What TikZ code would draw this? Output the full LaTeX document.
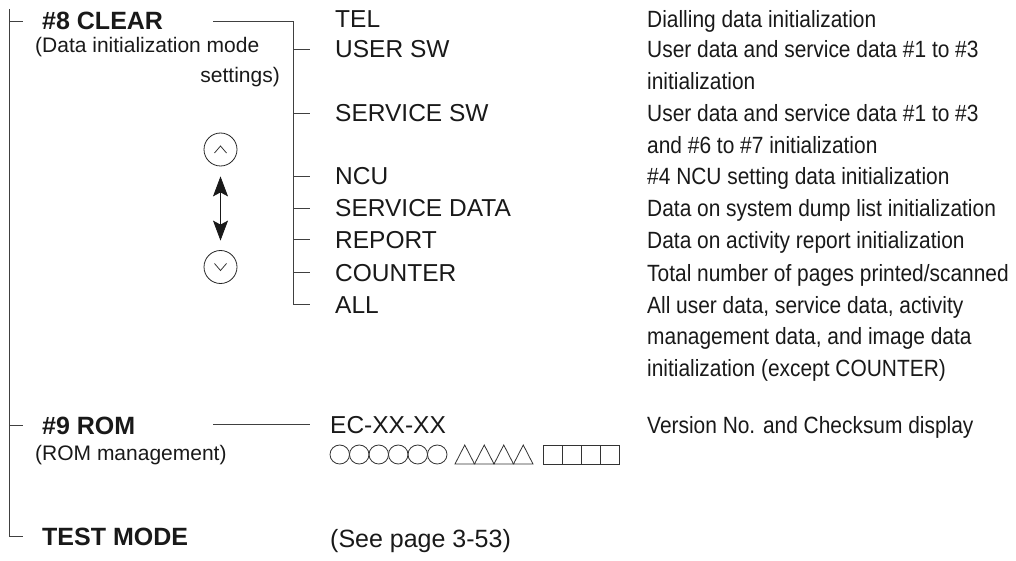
\documentclass[tikz,border=0pt]{standalone}
\usepackage{fontspec}
\setmainfont{Liberation Sans}
\newfontfamily\descfont[FakeStretch=0.89]{Liberation Sans}
\usetikzlibrary{arrows.meta}

\tikzset{
  menu/.style={anchor=base west, inner sep=0pt, text=black!90, font=\fontsize{25}{30}\selectfont\bfseries},
  note/.style={anchor=base west, inner sep=0pt, text=black!90, font=\fontsize{21}{25}\selectfont},
  item/.style={anchor=base west, inner sep=0pt, text=black!90, font=\fontsize{24.5}{29}\selectfont},
  desc/.style={anchor=base west, inner sep=0pt, text=black!90, align=left, font=\descfont\fontsize{23.5}{31.5}\selectfont},
  key/.style={circle, draw=black!85, line width=0.8pt, minimum size=33pt, inner sep=0pt},
  tree/.style={line width=0.9pt, black!75},
  glyph/.style={line width=0.8pt, black!80}
}

\begin{document}
\begin{tikzpicture}[x=1pt,y=-1pt]
\useasboundingbox (0,0) rectangle (1016,561);

% main menu
\node[menu] (clear) at (42,30) {\#8 CLEAR};
\node[note] (clearnote) at (35,53) {(Data initialization mode};
\node[note, anchor=base east] (clearnote2) at (280,83) {settings)};
\node[menu] (romitem) at (42,434) {\#9 ROM};
\node[note] (romnote) at (35,460) {(ROM management)};
\node[menu] (test) at (42,545) {TEST MODE};

\coordinate (trunk) at (9,9);
\draw[tree] (trunk) -- (trunk |- test.west) -- ([xshift=-19pt]test.west);
\draw[tree] (trunk |- clear.west) -- ([xshift=-19pt]clear.west);
\draw[tree] (trunk |- romitem.west) -- ([xshift=-19pt]romitem.west);

% #8 CLEAR sub menu
\coordinate (j8) at ([xshift=50pt]clear.east);
\coordinate (sub) at (293,0);
\draw[tree] (j8) -- (sub |- j8);
\foreach \b/\nm/\lbl in {28/tel/TEL, 58/usr/USER SW, 122/svc/SERVICE SW, 185/ncu/NCU,
    217/sdt/SERVICE DATA, 248/rpt/REPORT, 281/cnt/COUNTER, 313/all/ALL}
{
  \node[item] (\nm) at (335,\b) {\lbl};
}
\draw[tree] (sub |- j8) -- (sub |- all.west) -- ([xshift=-25pt]all.west);
\foreach \nm in {usr,svc,ncu,sdt,rpt,cnt}
  \draw[tree] (sub |- \nm.west) -- ([xshift=-25pt]\nm.west);

% up / down keys
\node[key] (up) at (220.5,149.5) {};
\node[key] (dn) at (220.5,267) {};
\draw[glyph] (up.center) ++(-6,3.5) -- ++(6,-7) -- ++(6,7);
\draw[glyph] (dn.center) ++(-6,-3.5) -- ++(6,7) -- ++(6,-7);
\draw[line width=0.8pt, black!90, {Stealth[length=20pt,width=15pt,inset=4pt]}-{Stealth[length=20pt,width=15pt,inset=4pt]},
  shorten <=10pt, shorten >=9.5pt] (up) -- (dn);

% descriptions (base anchor sits on the last line)
\coordinate (dx) at (647,0);
\foreach \nm/\n/\txt in {tel/1/{Dialling data initialization},
    usr/2/{User data and service data \#1 to \#3\\initialization},
    svc/2/{User data and service data \#1 to \#3\\and \#6 to \#7 initialization},
    ncu/1/{\#4 NCU setting data initialization},
    sdt/1/{Data on system dump list initialization},
    rpt/1/{Data on activity report initialization},
    cnt/1/{Total number of pages printed/scanned},
    all/3/{All user data, service data, activity\\management data, and image data\\initialization (except COUNTER)}}
{
  \node[desc] (d\nm) at ([yshift={-(\n-1)*31.5pt}]dx |- \nm.base) {\txt};
}

% #9 ROM sub menu
\node[item] (ecxx) at (330,433) {EC-XX-XX};
\draw[tree] (j8 |- ecxx.west) -- ([xshift=-20pt]ecxx.west);
\node[desc] (dver) at (dx |- ecxx.base) {Version No. and Checksum display};
\foreach \i in {0,...,5}
  \draw[glyph] (339.75+19.5*\i,454.5) ellipse [x radius=9.75pt, y radius=9.5pt];
\foreach \i in {0,...,3}
  \draw[glyph] (455+19.5*\i,464) -- (464.75+19.5*\i,445) -- (474.5+19.5*\i,464) -- cycle;
\foreach \i in {0,...,3}
  \draw[glyph] (543+19*\i,445) rectangle ++(19,19);

% test mode
\node[item, font=\fontsize{25}{30}\selectfont] (seepg) at (330,547) {(See page 3-53)};
\end{tikzpicture}
\end{document}
